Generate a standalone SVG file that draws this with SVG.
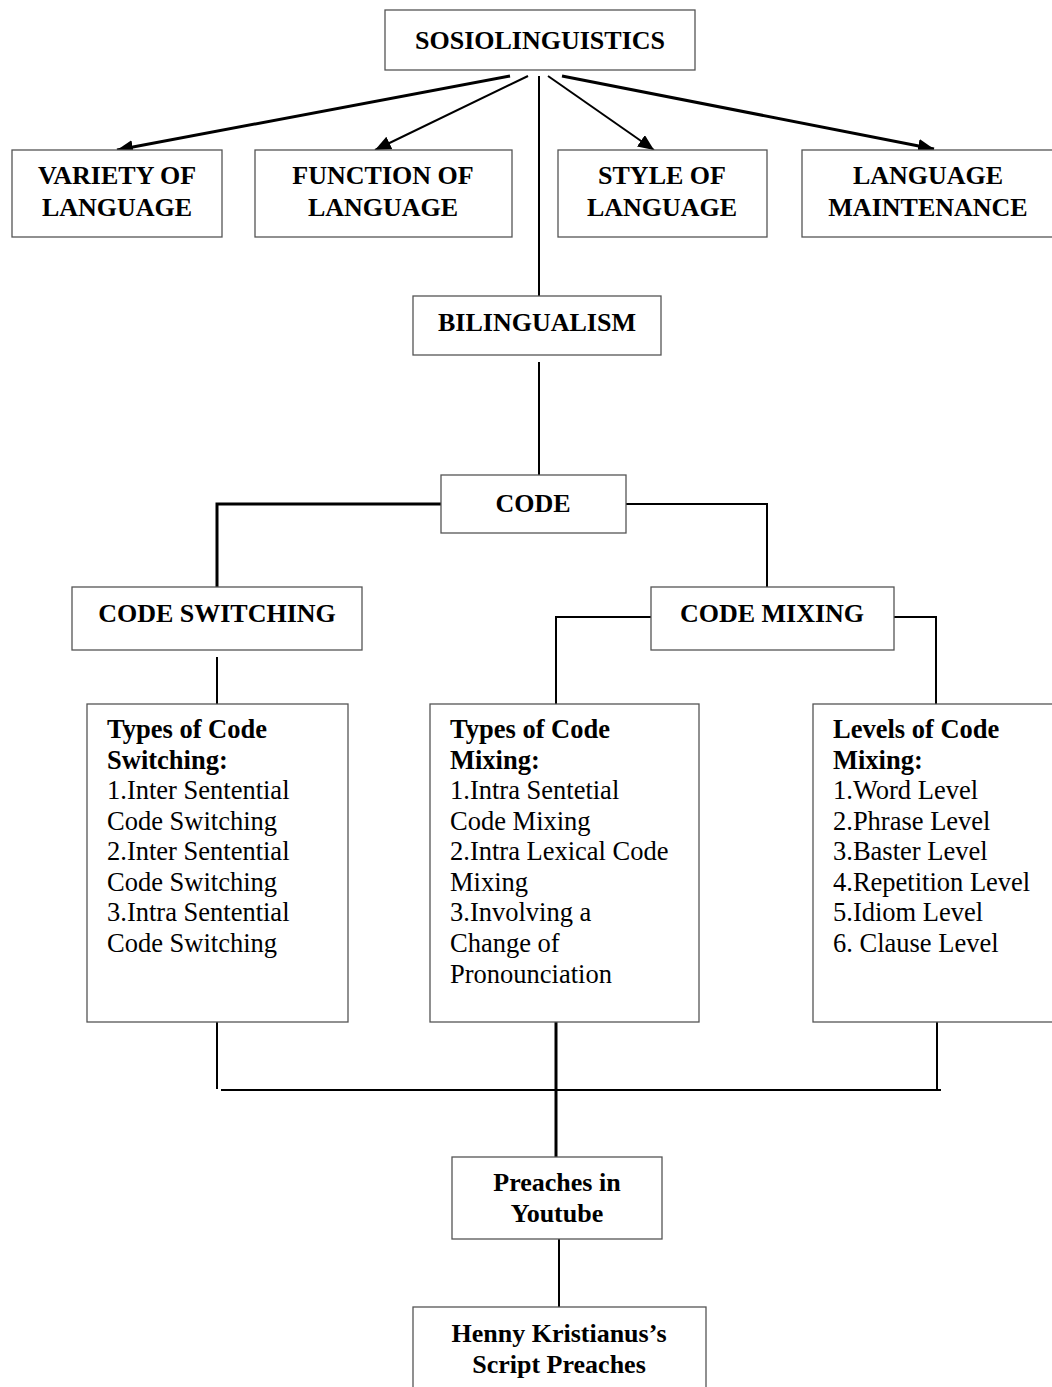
<svg xmlns="http://www.w3.org/2000/svg" width="1052" height="1387" viewBox="0 0 1052 1387">
<style>
.box{fill:#fff;stroke:#555;stroke-width:1.3}
.h{font-family:"Liberation Serif","Times New Roman",serif;font-weight:bold;font-size:26px;fill:#000;text-anchor:middle}
.bh{font-family:"Liberation Serif","Times New Roman",serif;font-weight:bold;font-size:26.5px;fill:#000}
.b{font-family:"Liberation Serif","Times New Roman",serif;font-size:26.5px;fill:#000}
.ln{fill:none;stroke:#000;stroke-width:2}
.thk{fill:none;stroke:#000;stroke-width:3}
</style>
<defs>
<marker id="ah" viewBox="0 0 16 14" refX="16" refY="7" markerWidth="16" markerHeight="14" markerUnits="userSpaceOnUse" orient="auto">
<path d="M0,0 L16,7 L0,14 z" fill="#000"/>
</marker>
</defs>
<g id="connectors">
<line class="thk" x1="510" y1="76" x2="117" y2="150" marker-end="url(#ah)"/>
<line class="ln" x1="528" y1="76" x2="375" y2="150" marker-end="url(#ah)"/>
<line class="ln" x1="548" y1="76" x2="654" y2="150" marker-end="url(#ah)"/>
<line class="thk" x1="562" y1="76" x2="934" y2="149" marker-end="url(#ah)"/>
<line class="ln" x1="539" y1="76" x2="539" y2="296"/>
<line class="ln" x1="539" y1="362" x2="539" y2="475"/>
<polyline class="thk" points="441,504 217,504 217,587"/>
<polyline class="ln" points="626,504 767,504 767,587"/>
<polyline class="ln" points="651,617 556,617 556,704"/>
<polyline class="ln" points="894,617 936,617 936,704"/>
<line class="ln" x1="217" y1="657" x2="217" y2="704"/>
<line class="ln" x1="217" y1="1022" x2="217" y2="1089"/>
<line class="ln" x1="937" y1="1022" x2="937" y2="1089"/>
<line class="ln" x1="221" y1="1090" x2="941" y2="1090"/>
<line class="thk" x1="556" y1="1022" x2="556" y2="1157"/>
<line class="ln" x1="559" y1="1239" x2="559" y2="1307"/>
</g>
<g id="n-sosio">
<rect class="box" x="385" y="10" width="310" height="60"/>
<text class="h" x="540" y="49">SOSIOLINGUISTICS</text>
</g>
<g id="n-variety">
<rect class="box" x="12" y="150" width="210" height="87"/>
<text class="h" x="117" y="184">VARIETY OF</text>
<text class="h" x="117" y="216">LANGUAGE</text>
</g>
<g id="n-function">
<rect class="box" x="255" y="150" width="257" height="87"/>
<text class="h" x="383" y="184">FUNCTION OF</text>
<text class="h" x="383" y="216">LANGUAGE</text>
</g>
<g id="n-style">
<rect class="box" x="558" y="150" width="209" height="87"/>
<text class="h" x="662" y="184">STYLE OF</text>
<text class="h" x="662" y="216">LANGUAGE</text>
</g>
<g id="n-maint">
<rect class="box" x="802" y="150" width="256" height="87"/>
<text class="h" x="928" y="184">LANGUAGE</text>
<text class="h" x="928" y="216">MAINTENANCE</text>
</g>
<g id="n-bilingualism">
<rect class="box" x="413" y="296" width="248" height="59"/>
<text class="h" x="537" y="331">BILINGUALISM</text>
</g>
<g id="n-code">
<rect class="box" x="441" y="475" width="185" height="58"/>
<text class="h" x="533" y="512">CODE</text>
</g>
<g id="n-cs">
<rect class="box" x="72" y="587" width="290" height="63"/>
<text class="h" x="217" y="622">CODE SWITCHING</text>
</g>
<g id="n-cm">
<rect class="box" x="651" y="587" width="243" height="63"/>
<text class="h" x="772" y="622">CODE MIXING</text>
</g>
<g id="n-types-cs">
<rect class="box" x="87" y="704" width="261" height="318"/>
<text class="bh" x="107" y="738">Types of Code</text>
<text class="bh" x="107" y="769">Switching:</text>
<text class="b" x="107" y="799">1.Inter Sentential</text>
<text class="b" x="107" y="830">Code Switching</text>
<text class="b" x="107" y="860">2.Inter Sentential</text>
<text class="b" x="107" y="891">Code Switching</text>
<text class="b" x="107" y="921">3.Intra Sentential</text>
<text class="b" x="107" y="952">Code Switching</text>
</g>
<g id="n-types-cm">
<rect class="box" x="430" y="704" width="269" height="318"/>
<text class="bh" x="450" y="738">Types of Code</text>
<text class="bh" x="450" y="769">Mixing:</text>
<text class="b" x="450" y="799">1.Intra Sentetial</text>
<text class="b" x="450" y="830">Code Mixing</text>
<text class="b" x="450" y="860">2.Intra Lexical Code</text>
<text class="b" x="450" y="891">Mixing</text>
<text class="b" x="450" y="921">3.Involving a</text>
<text class="b" x="450" y="952">Change of</text>
<text class="b" x="450" y="983">Pronounciation</text>
</g>
<g id="n-levels-cm">
<rect class="box" x="813" y="704" width="250" height="318"/>
<text class="bh" x="833" y="738">Levels of Code</text>
<text class="bh" x="833" y="769">Mixing:</text>
<text class="b" x="833" y="799">1.Word Level</text>
<text class="b" x="833" y="830">2.Phrase Level</text>
<text class="b" x="833" y="860">3.Baster Level</text>
<text class="b" x="833" y="891">4.Repetition Level</text>
<text class="b" x="833" y="921">5.Idiom Level</text>
<text class="b" x="833" y="952">6. Clause Level</text>
</g>
<g id="n-preaches">
<rect class="box" x="452" y="1157" width="210" height="82"/>
<text class="h" x="557" y="1191">Preaches in</text>
<text class="h" x="557" y="1222">Youtube</text>
</g>
<g id="n-henny">
<rect class="box" x="413" y="1307" width="293" height="90"/>
<text class="h" x="559" y="1342">Henny Kristianus’s</text>
<text class="h" x="559" y="1373">Script Preaches</text>
</g>
</svg>
